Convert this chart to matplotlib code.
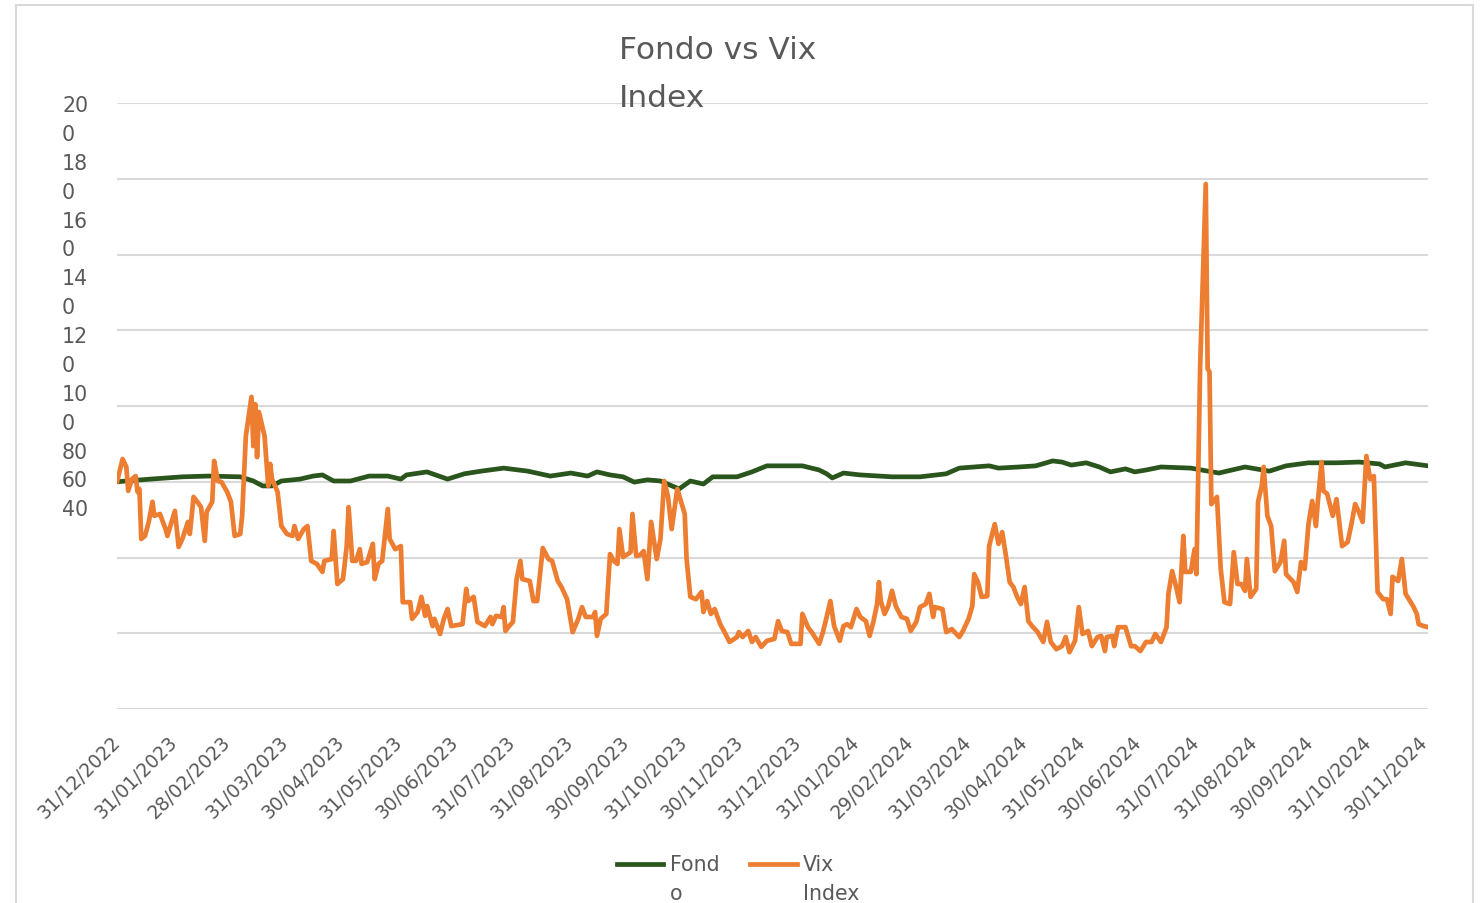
import matplotlib
matplotlib.use("Agg")
import matplotlib.pyplot as plt
from matplotlib.lines import Line2D
from matplotlib.patches import Rectangle
import pandas as pd

# Data (both series rebased to 100)
title = "Fondo vs Vix\nIndex"
legend_labels = ["Fond\no", "Vix\nIndex"]

y_ticks = [200, 180, 160, 140, 120, 100, 80, 60, 40]
# Excel wrapped the long labels, so they stack up at the top
y_tick_text = ["20\n0", "18\n0", "16\n0", "14\n0", "12\n0", "10\n0", "80", "60", "40"]

x_tick_labels = [
    "31/12/2022", "31/01/2023", "28/02/2023", "31/03/2023", "30/04/2023", "31/05/2023",
    "30/06/2023", "31/07/2023", "31/08/2023", "30/09/2023", "31/10/2023", "30/11/2023",
    "31/12/2023", "31/01/2024", "29/02/2024", "31/03/2024", "30/04/2024", "31/05/2024",
    "30/06/2024", "31/07/2024", "31/08/2024", "30/09/2024", "31/10/2024", "30/11/2024",
]

fondo_dates = [
    "2022-12-31", "2023-01-18", "2023-02-04", "2023-02-18", "2023-03-07", "2023-03-14",
    "2023-03-19", "2023-03-24", "2023-03-29", "2023-04-08", "2023-04-15", "2023-04-20",
    "2023-04-26", "2023-05-05", "2023-05-15", "2023-05-25", "2023-06-01", "2023-06-04",
    "2023-06-15", "2023-06-26", "2023-07-05", "2023-07-14", "2023-07-26", "2023-08-08",
    "2023-08-20", "2023-08-31", "2023-09-09", "2023-09-14", "2023-09-21", "2023-09-28",
    "2023-10-04", "2023-10-11", "2023-10-18", "2023-10-28", "2023-11-03", "2023-11-10",
    "2023-11-15", "2023-11-28", "2023-12-06", "2023-12-14", "2023-12-21", "2024-01-02",
    "2024-01-11", "2024-01-15", "2024-01-18", "2024-01-24", "2024-02-02", "2024-02-19",
    "2024-03-05", "2024-03-19", "2024-03-26", "2024-04-11", "2024-04-16", "2024-04-27",
    "2024-05-06", "2024-05-15", "2024-05-20", "2024-05-25", "2024-06-02", "2024-06-09",
    "2024-06-15", "2024-06-23", "2024-06-28", "2024-07-04", "2024-07-12", "2024-07-28",
    "2024-08-12", "2024-08-26", "2024-09-08", "2024-09-17", "2024-09-29", "2024-10-14",
    "2024-10-26", "2024-11-06", "2024-11-09", "2024-11-20", "2024-12-02",
]
fondo_values = [
    100.0, 100.7, 101.3, 101.5, 101.3, 100.2,
    98.9, 98.9, 100.2, 100.7, 101.5, 101.8,
    100.2, 100.2, 101.5, 101.5, 100.7, 101.8,
    102.6, 100.7, 102.1, 102.8, 103.6, 102.8,
    101.5, 102.3, 101.5, 102.6, 101.8, 101.3,
    99.9, 100.5, 100.2, 98.1, 100.2, 99.4,
    101.3, 101.3, 102.6, 104.2, 104.2, 104.2,
    103.1, 102.1, 101.0, 102.3, 101.8, 101.3,
    101.3, 102.1, 103.6, 104.2, 103.6, 103.9,
    104.2, 105.5, 105.2, 104.4, 105.0, 103.9,
    102.6, 103.4, 102.6, 103.1, 103.9, 103.6,
    102.3, 103.9, 102.8, 104.2, 105.0, 105.0,
    105.2, 104.7, 103.9, 105.0, 104.2,
]

vix_dates = [
    "2022-12-31", "2023-01-03", "2023-01-05", "2023-01-06", "2023-01-08", "2023-01-10",
    "2023-01-11", "2023-01-12", "2023-01-13", "2023-01-15", "2023-01-17", "2023-01-19",
    "2023-01-20", "2023-01-23", "2023-01-26", "2023-01-27", "2023-01-31", "2023-02-02",
    "2023-02-04", "2023-02-07", "2023-02-08", "2023-02-10", "2023-02-12", "2023-02-14",
    "2023-02-16", "2023-02-17", "2023-02-20", "2023-02-21", "2023-02-23", "2023-02-25",
    "2023-02-28", "2023-03-02", "2023-03-04", "2023-03-07", "2023-03-08", "2023-03-10",
    "2023-03-13", "2023-03-14", "2023-03-15", "2023-03-16", "2023-03-17", "2023-03-20",
    "2023-03-22", "2023-03-23", "2023-03-24", "2023-03-27", "2023-03-29", "2023-04-01",
    "2023-04-04", "2023-04-05", "2023-04-07", "2023-04-10", "2023-04-12", "2023-04-14",
    "2023-04-17", "2023-04-20", "2023-04-21", "2023-04-25", "2023-04-26", "2023-04-28",
    "2023-05-01", "2023-05-03", "2023-05-04", "2023-05-06", "2023-05-08", "2023-05-10",
    "2023-05-11", "2023-05-14", "2023-05-17", "2023-05-18", "2023-05-20", "2023-05-22",
    "2023-05-25", "2023-05-26", "2023-05-29", "2023-06-01", "2023-06-02", "2023-06-06",
    "2023-06-07", "2023-06-10", "2023-06-12", "2023-06-14", "2023-06-15", "2023-06-18",
    "2023-06-19", "2023-06-22", "2023-06-24", "2023-06-26", "2023-06-28", "2023-07-04",
    "2023-07-06", "2023-07-07", "2023-07-10", "2023-07-12", "2023-07-16", "2023-07-19",
    "2023-07-20", "2023-07-22", "2023-07-25", "2023-07-26", "2023-07-27", "2023-07-29",
    "2023-07-31", "2023-08-02", "2023-08-04", "2023-08-05", "2023-08-09", "2023-08-11",
    "2023-08-13", "2023-08-16", "2023-08-19", "2023-08-21", "2023-08-24", "2023-08-26",
    "2023-08-29", "2023-09-01", "2023-09-04", "2023-09-06", "2023-09-08", "2023-09-12",
    "2023-09-13", "2023-09-14", "2023-09-16", "2023-09-19", "2023-09-21", "2023-09-23",
    "2023-09-25", "2023-09-26", "2023-09-28", "2023-10-02", "2023-10-03", "2023-10-05",
    "2023-10-07", "2023-10-09", "2023-10-11", "2023-10-13", "2023-10-16", "2023-10-18",
    "2023-10-20", "2023-10-22", "2023-10-24", "2023-10-27", "2023-10-31", "2023-11-01",
    "2023-11-03", "2023-11-06", "2023-11-09", "2023-11-10", "2023-11-12", "2023-11-14",
    "2023-11-16", "2023-11-19", "2023-11-21", "2023-11-24", "2023-11-28", "2023-11-29",
    "2023-12-01", "2023-12-04", "2023-12-06", "2023-12-08", "2023-12-11", "2023-12-14",
    "2023-12-18", "2023-12-20", "2023-12-22", "2023-12-25", "2023-12-27", "2024-01-01",
    "2024-01-02", "2024-01-05", "2024-01-07", "2024-01-11", "2024-01-13", "2024-01-15",
    "2024-01-17", "2024-01-19", "2024-01-22", "2024-01-24", "2024-01-26", "2024-01-28",
    "2024-01-31", "2024-02-02", "2024-02-05", "2024-02-07", "2024-02-09", "2024-02-11",
    "2024-02-12", "2024-02-13", "2024-02-15", "2024-02-17", "2024-02-19", "2024-02-21",
    "2024-02-24", "2024-02-27", "2024-02-29", "2024-03-03", "2024-03-05", "2024-03-08",
    "2024-03-10", "2024-03-12", "2024-03-13", "2024-03-17", "2024-03-19", "2024-03-22",
    "2024-03-26", "2024-03-28", "2024-03-31", "2024-04-02", "2024-04-03", "2024-04-05",
    "2024-04-07", "2024-04-10", "2024-04-11", "2024-04-14", "2024-04-16", "2024-04-18",
    "2024-04-20", "2024-04-22", "2024-04-24", "2024-04-26", "2024-04-28", "2024-04-30",
    "2024-05-02", "2024-05-04", "2024-05-07", "2024-05-10", "2024-05-12", "2024-05-14",
    "2024-05-17", "2024-05-20", "2024-05-22", "2024-05-24", "2024-05-27", "2024-05-29",
    "2024-05-31", "2024-06-03", "2024-06-05", "2024-06-08", "2024-06-10", "2024-06-12",
    "2024-06-13", "2024-06-16", "2024-06-17", "2024-06-19", "2024-06-23", "2024-06-26",
    "2024-06-28", "2024-07-01", "2024-07-04", "2024-07-07", "2024-07-09", "2024-07-12",
    "2024-07-15", "2024-07-16", "2024-07-18", "2024-07-20", "2024-07-22", "2024-07-24",
    "2024-07-25", "2024-07-28", "2024-07-30", "2024-07-31", "2024-08-01", "2024-08-02",
    "2024-08-05", "2024-08-06", "2024-08-07", "2024-08-08", "2024-08-11", "2024-08-13",
    "2024-08-15", "2024-08-18", "2024-08-20", "2024-08-22", "2024-08-24", "2024-08-26",
    "2024-08-27", "2024-08-29", "2024-09-01", "2024-09-02", "2024-09-04", "2024-09-05",
    "2024-09-07", "2024-09-09", "2024-09-11", "2024-09-14", "2024-09-16", "2024-09-17",
    "2024-09-21", "2024-09-23", "2024-09-25", "2024-09-27", "2024-09-29", "2024-10-01",
    "2024-10-03", "2024-10-04", "2024-10-06", "2024-10-07", "2024-10-09", "2024-10-12",
    "2024-10-14", "2024-10-17", "2024-10-20", "2024-10-22", "2024-10-24", "2024-10-26",
    "2024-10-28", "2024-10-30", "2024-11-01", "2024-11-03", "2024-11-05", "2024-11-08",
    "2024-11-10", "2024-11-12", "2024-11-13", "2024-11-16", "2024-11-18", "2024-11-20",
    "2024-11-24", "2024-11-26", "2024-11-27", "2024-11-29", "2024-12-02",
]
vix_values = [
    100.0, 106.0, 103.9, 97.6, 100.7, 101.5,
    97.3, 98.1, 84.9, 85.7, 89.4, 94.7,
    91.0, 91.5, 87.5, 85.7, 92.3, 82.8,
    84.9, 89.4, 86.2, 96.0, 94.7, 93.3,
    84.4, 92.0, 94.7, 105.5, 100.2, 99.9,
    97.3, 94.7, 85.7, 86.2, 91.0, 112.1,
    122.4, 109.4, 120.5, 106.5, 118.4, 112.1,
    98.9, 104.7, 100.7, 97.3, 88.3, 86.2,
    85.7, 88.3, 84.9, 87.5, 88.3, 79.1,
    78.3, 76.2, 79.1, 79.6, 87.0, 73.0,
    74.3, 83.0, 93.3, 79.1, 79.1, 82.2,
    78.3, 78.8, 83.6, 74.3, 78.3, 79.1,
    92.8, 84.9, 82.2, 83.0, 68.2, 68.2,
    63.8, 65.6, 69.6, 64.6, 67.2, 61.9,
    63.8, 59.8, 63.8, 66.4, 61.9, 62.4,
    71.7, 68.5, 69.6, 63.0, 61.9, 64.3,
    62.4, 64.6, 64.3, 66.9, 60.6, 61.9,
    63.0, 74.3, 79.1, 74.3, 73.8, 68.5,
    68.5, 82.5, 79.6, 79.1, 73.8, 72.2,
    69.0, 60.3, 63.8, 66.9, 64.3, 64.3,
    65.6, 59.3, 63.8, 65.1, 80.9, 79.1,
    78.3, 87.5, 80.1, 81.4, 91.5, 80.4,
    80.6, 81.7, 74.3, 89.4, 79.6, 84.9,
    100.2, 96.2, 87.5, 98.1, 91.5, 79.6,
    69.6, 69.0, 70.9, 65.6, 68.5, 65.1,
    66.4, 62.4, 60.6, 57.7, 59.0, 60.3,
    59.0, 60.6, 57.7, 59.0, 56.4, 58.0,
    58.5, 63.2, 60.6, 60.3, 57.2, 57.2,
    65.1, 61.6, 60.3, 57.2, 60.3, 64.3,
    68.5, 61.9, 58.0, 61.9, 62.4, 61.6,
    66.4, 64.3, 63.2, 59.3, 63.0, 67.7,
    73.5, 68.5, 65.1, 67.2, 71.2, 67.2,
    64.3, 63.8, 60.6, 63.0, 66.9, 67.7,
    70.4, 64.3, 66.9, 66.4, 60.3, 61.1,
    59.0, 60.6, 63.8, 67.2, 75.6, 73.5,
    69.6, 69.8, 83.0, 88.8, 83.6, 86.7,
    80.4, 73.5, 72.2, 69.6, 67.7, 72.2,
    63.2, 61.9, 60.3, 57.7, 63.0, 57.7,
    55.8, 56.6, 59.0, 55.0, 58.0, 66.9,
    59.8, 60.6, 56.6, 59.0, 59.3, 55.3,
    59.0, 59.3, 56.6, 61.6, 61.6, 56.6,
    56.6, 55.3, 57.7, 57.7, 59.8, 57.7,
    61.6, 70.4, 76.4, 72.5, 68.2, 85.7,
    76.2, 76.2, 82.2, 75.6, 103.4, 130.6,
    178.6, 129.8, 129.0, 94.1, 96.0, 77.0,
    68.2, 67.7, 81.4, 73.0, 73.0, 71.2,
    79.6, 69.6, 71.7, 94.7, 98.9, 103.9,
    91.0, 88.3, 76.4, 78.8, 84.4, 75.6,
    73.5, 70.9, 78.8, 77.0, 88.8, 94.9,
    88.3, 94.7, 105.2, 97.6, 96.8, 91.0,
    95.4, 83.0, 84.1, 88.8, 94.1, 92.0,
    89.4, 106.8, 100.7, 101.5, 70.9, 69.0,
    69.0, 65.1, 74.9, 73.8, 79.6, 70.4,
    67.2, 65.1, 62.4, 62.0, 61.6,
]

green = "#2a551c"
orange = "#ed7d31"
text_grey = "#595959"
grid_grey = "#d9d9d9"

W, H = 1483, 904
fig = plt.figure(figsize=(W / 100, H / 100), dpi=100)
fig.patch.set_facecolor("white")

# chart-area border (bottom edge runs off the picture)
fig.add_artist(Rectangle((16 / W, -0.05), (1473 - 16) / W, (904 - 6) / H + 0.05,
                         transform=fig.transFigure, fill=False,
                         edgecolor=grid_grey, lw=1.5))

ax = fig.add_axes([117 / W, 1 - 710 / H, (1428 - 117) / W, (710 - 104) / H])

fondo_x = pd.to_datetime(fondo_dates)
vix_x = pd.to_datetime(vix_dates)
ax.plot(fondo_x, fondo_values, color=green, lw=3.4, solid_joinstyle="round")
ax.plot(vix_x, vix_values, color=orange, lw=3.4, solid_joinstyle="round")

ax.set_ylim(min(y_ticks), max(y_ticks))
ax.set_xlim(pd.Timestamp(vix_dates[0]), pd.Timestamp(vix_dates[-1]))
ax.set_yticks(y_ticks)
ax.set_yticklabels([])
ax.grid(axis="y", color=grid_grey, lw=1.5)
ax.set_axisbelow(True)
for s in ax.spines.values():
    s.set_visible(False)

tick_pos = pd.to_datetime(x_tick_labels, format="%d/%m/%Y")
ax.set_xticks(tick_pos)
ax.set_xticklabels(x_tick_labels, rotation=45, ha="right", va="center",
                   rotation_mode="anchor", color=text_grey, fontsize=13.5)
ax.tick_params(axis="both", length=0)
ax.tick_params(axis="x", pad=21)

# wrapped y labels, stacked as Excel drew them
fig.text(62 / W, 1 - 96 / H, "\n".join(y_tick_text), ha="left", va="top",
         fontsize=14.8, linespacing=1.555, color=text_grey)

fig.text(619 / W, 1 - 36 / H, title, ha="left", va="top",
         fontsize=22.5, linespacing=1.82, color=text_grey)

# legend at the bottom, swatch level with the first line of each label
for color, label, x0, x1, xt in [(green, legend_labels[0], 617, 663, 670),
                                 (orange, legend_labels[1], 750, 797, 803)]:
    fig.add_artist(Line2D([x0 / W, x1 / W], [1 - 865 / H] * 2,
                          transform=fig.transFigure, color=color, lw=3.4))
    fig.text(xt / W, 1 - 855 / H, label, ha="left", va="top",
             fontsize=14.8, linespacing=1.58, color=text_grey)

fig.savefig("out.png", dpi=100)
